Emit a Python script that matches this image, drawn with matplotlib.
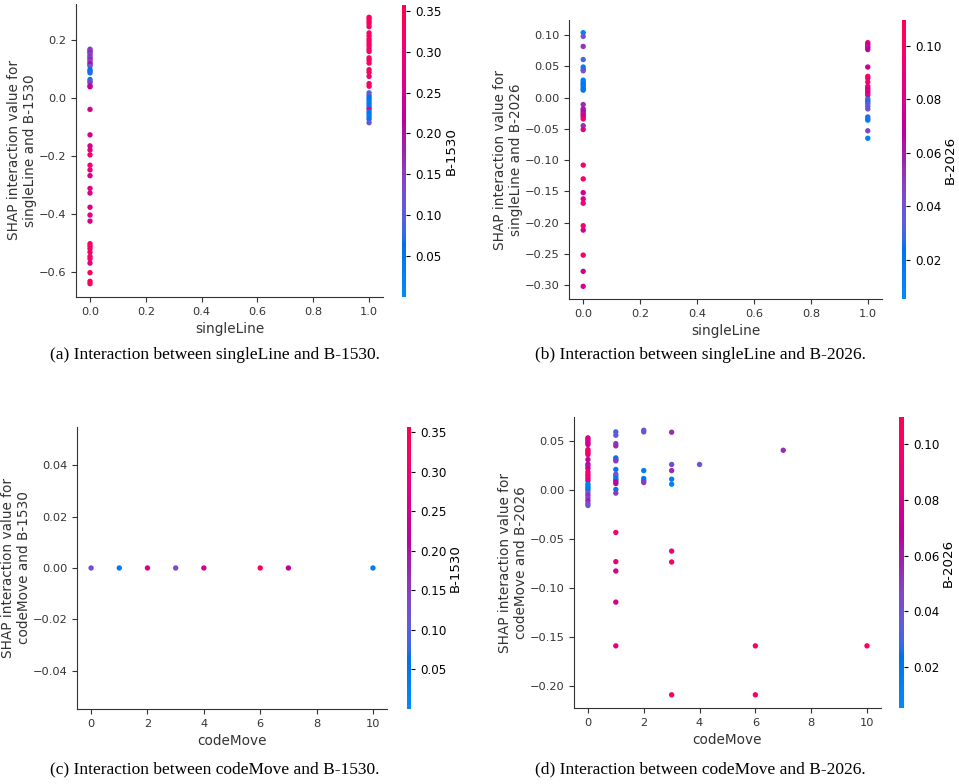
"""SHAP interaction dependence plots for singleLine / codeMove vs B-1530 / B-2026."""

import matplotlib

matplotlib.use("Agg")
import matplotlib.pyplot as plt
import numpy as np
from matplotlib.colors import LinearSegmentedColormap
from matplotlib.ticker import MultipleLocator

# ---- data ----
# (a) singleLine vs B-1530
a_x = [0.0] * 43 + [1.0] * 34
a_y = [
    0.168, 0.164, 0.159, 0.155, 0.149, 0.143, 0.138, 0.132, 0.126, 0.120,
    0.115, 0.109, 0.097, 0.092, 0.086, 0.063, 0.057, 0.052, 0.042, 0.038,
    -0.040, -0.128, -0.166, -0.180, -0.197, -0.233, -0.249, -0.269, -0.313,
    -0.329, -0.378, -0.405, -0.426, -0.504, -0.512, -0.521, -0.533, -0.548,
    -0.556, -0.571, -0.604, -0.634, -0.642,
    0.278, 0.272, 0.264, 0.256, 0.246, 0.224, 0.214, 0.203, 0.195, 0.186,
    0.178, 0.168, 0.160, 0.138, 0.130, 0.120, 0.097, 0.088, 0.074, 0.049,
    0.040, 0.017, 0.008, 0.000, -0.008, -0.017, -0.026, -0.034, -0.040,
    -0.049, -0.057, -0.065, -0.074, -0.086,
]
a_c = [
    0.13, 0.16, 0.13, 0.18, 0.12, 0.17, 0.13, 0.19, 0.12, 0.17,
    0.21, 0.11, 0.06, 0.05, 0.07, 0.06, 0.10, 0.15, 0.18, 0.22,
    0.25, 0.26, 0.25, 0.27, 0.31, 0.30, 0.30, 0.26, 0.27,
    0.27, 0.26, 0.27, 0.26, 0.33, 0.33, 0.34, 0.32, 0.33,
    0.32, 0.27, 0.34, 0.35, 0.34,
    0.34, 0.33, 0.34, 0.33, 0.32, 0.33, 0.32, 0.33, 0.34, 0.32,
    0.33, 0.31, 0.32, 0.33, 0.32, 0.33, 0.32, 0.33, 0.32, 0.31,
    0.33, 0.10, 0.09, 0.06, 0.05, 0.04, 0.05, 0.03, 0.30,
    0.04, 0.05, 0.03, 0.05, 0.11,
]

# (b) singleLine vs B-2026
b_x = [0.0] * 34 + [1.0] * 26
b_y = [
    0.104, 0.098, 0.082, 0.061, 0.049, 0.045, 0.043, 0.028, 0.025, 0.022,
    0.020, 0.017, 0.014, 0.012, -0.011, -0.018, -0.020, -0.023, -0.026,
    -0.028, -0.031, -0.034, -0.045, -0.051, -0.108, -0.130, -0.152, -0.162,
    -0.169, -0.205, -0.212, -0.252, -0.278, -0.302,
    0.088, 0.085, 0.082, 0.080, 0.077, 0.049, 0.034, 0.031, 0.025, 0.018,
    0.015, 0.013, 0.010, 0.007, 0.004, -0.002, -0.004, -0.007, -0.010,
    -0.014, -0.018, -0.031, -0.034, -0.036, -0.053, -0.065,
]
b_c = [
    0.012, 0.040, 0.052, 0.030, 0.015, 0.018, 0.042, 0.015, 0.012, 0.018,
    0.020, 0.014, 0.025, 0.020, 0.055, 0.065, 0.058, 0.070, 0.060,
    0.090, 0.075, 0.095, 0.055, 0.085, 0.100, 0.100, 0.075, 0.080,
    0.095, 0.100, 0.078, 0.100, 0.075, 0.080,
    0.090, 0.075, 0.090, 0.060, 0.070, 0.075, 0.100, 0.095, 0.100, 0.080,
    0.090, 0.075, 0.090, 0.070, 0.090, 0.020, 0.035, 0.025, 0.040,
    0.030, 0.040, 0.025, 0.035, 0.015, 0.045, 0.012,
]

# (c) codeMove vs B-1530
c_x = [0, 1, 2, 3, 4, 6, 7, 10]
c_y = [0.0, 0.0, 0.0, 0.0, 0.0, 0.0, 0.0, 0.0]
c_c = [0.13, 0.04, 0.26, 0.13, 0.25, 0.34, 0.22, 0.03]

# (d) codeMove vs B-2026
d_x = [0] * 28 + [1] * 21 + [2] * 6 + [3] * 8 + [4] + [6] * 2 + [7] + [10]
d_y = [
    0.0534, 0.0517, 0.0500, 0.0483, 0.0466, 0.0415, 0.0398, 0.0381, 0.0364,
    0.0313, 0.0266, 0.0246, 0.0222, 0.0188, 0.0164, 0.0144, 0.0120, 0.0096,
    0.0062, 0.0042, 0.0022, 0.0001, -0.0026, -0.0053, -0.0080, -0.0107,
    -0.0134, -0.0155,
    0.0595, 0.0561, 0.0476, 0.0453, 0.0330, 0.0313, 0.0300, 0.0212, 0.0164,
    0.0144, 0.0120, 0.0103, 0.0086, 0.0069, 0.0008, -0.0029, -0.0430,
    -0.0728, -0.0823, -0.1140, -0.1586,
    0.0612, 0.0595, 0.0201, 0.0120, 0.0096, 0.0079,
    0.0592, 0.0263, 0.0201, 0.0113, 0.0062, -0.0620, -0.0731, -0.2085,
    0.0263,
    -0.1586, -0.2085,
    0.0408,
    -0.1586,
]
d_c = [
    0.080, 0.075, 0.090, 0.080, 0.075, 0.100, 0.095, 0.100, 0.095,
    0.075, 0.070, 0.060, 0.075, 0.100, 0.095, 0.100, 0.095, 0.085,
    0.015, 0.012, 0.018, 0.020, 0.040, 0.055, 0.045, 0.060,
    0.045, 0.040,
    0.030, 0.040, 0.050, 0.055, 0.020, 0.025, 0.050, 0.020, 0.040,
    0.035, 0.025, 0.015, 0.070, 0.065, 0.020, 0.050, 0.095,
    0.090, 0.080, 0.080, 0.090,
    0.035, 0.040, 0.015, 0.015, 0.020, 0.050,
    0.055, 0.045, 0.055, 0.015, 0.012, 0.095, 0.100, 0.100,
    0.040,
    0.100, 0.100,
    0.055,
    0.100,
]

# colour ranges of the two interaction features
range_b1530 = [0.0, 0.357]
range_b2026 = [0.0054, 0.1097]
ticks_b1530 = [0.05, 0.10, 0.15, 0.20, 0.25, 0.30, 0.35]
ticks_b2026 = [0.02, 0.04, 0.06, 0.08, 0.10]

AXIS_COLOR = "#333333"


def lch_to_rgb(l, c, h):
    """Convert one LCh colour to clipped sRGB (D65), like skimage does."""
    a, b = c * np.cos(h), c * np.sin(h)
    fy = (l + 16.0) / 116.0
    fx = a / 500.0 + fy
    fz = max(fy - b / 200.0, 0.0)
    f = np.array([fx, fy, fz])
    xyz = np.where(f > 0.2068966, f**3, (f - 16.0 / 116.0) / 7.787)
    xyz *= np.array([0.95047, 1.0, 1.08883])
    m = np.array([
        [3.24048134, -1.53715152, -0.49853633],
        [-0.96925495, 1.87599, 0.04155593],
        [0.05564664, -0.20404134, 1.05731107],
    ])
    rgb = m @ xyz
    rgb = np.where(rgb > 0.0031308, 1.055 * np.abs(rgb) ** (1 / 2.4) - 0.055, 12.92 * rgb)
    return np.clip(rgb, 0, 1)


def make_red_blue():
    """Rebuild SHAP's perceptual red_blue colour map."""
    blue_lch = [54.0, 70.0, 4.6588]
    red_lch = [54.0, 90.0, 0.35470565 + 2 * np.pi]
    l_mid = 40.0
    nsteps = 100
    l_vals = list(np.linspace(blue_lch[0], l_mid, nsteps // 2)) + list(
        np.linspace(l_mid, red_lch[0], nsteps // 2)
    )
    c_vals = np.linspace(blue_lch[1], red_lch[1], nsteps)
    h_vals = np.linspace(blue_lch[2], red_lch[2], nsteps)
    cols = [lch_to_rgb(l, c, h) for l, c, h in zip(l_vals, c_vals, h_vals)]
    return LinearSegmentedColormap.from_list("red_blue", cols)


red_blue = make_red_blue()


def draw_panel(fig, ax_rect, cb_rect, x, y, c, crange, cticks, xname, cname, ystep=None):
    """Draw one SHAP dependence plot with its thin colour bar."""
    ax = fig.add_axes(ax_rect)
    cax = fig.add_axes(cb_rect)
    sc = ax.scatter(
        x, y, c=c, cmap=red_blue, vmin=crange[0], vmax=crange[1],
        s=15, linewidths=0, alpha=1.0,
    )
    ax.set_xlabel(xname, color=AXIS_COLOR, fontsize=9.8)
    ax.set_ylabel(
        f"SHAP interaction value for\n{xname} and {cname}",
        color=AXIS_COLOR, fontsize=9.8, labelpad=1,
    )
    if ystep:
        ax.yaxis.set_major_locator(MultipleLocator(ystep))
    ax.spines["top"].set_visible(False)
    ax.spines["right"].set_visible(False)
    for side in ("left", "bottom"):
        ax.spines[side].set_color(AXIS_COLOR)
    ax.tick_params(color=AXIS_COLOR, labelcolor=AXIS_COLOR, labelsize=8.2)

    cb = fig.colorbar(sc, cax=cax, ticks=cticks)
    cb.outline.set_visible(False)
    cb.ax.tick_params(labelsize=8.6, length=3)
    cb.set_label(cname, fontsize=9.6, labelpad=2)
    return ax


fig = plt.figure(figsize=(9.59, 7.84), dpi=100)

draw_panel(fig, [0.0793, 0.6212, 0.3201, 0.3737], [0.4192, 0.6212, 0.0045, 0.3724],
           a_x, a_y, a_c, range_b1530, ticks_b1530, "singleLine", "B-1530")
draw_panel(fig, [0.5933, 0.6186, 0.3264, 0.3559], [0.9403, 0.6186, 0.0045, 0.3559],
           b_x, b_y, b_c, range_b2026, ticks_b2026, "singleLine", "B-2026", ystep=0.05)
draw_panel(fig, [0.0803, 0.0957, 0.3233, 0.3597], [0.4241, 0.0957, 0.0045, 0.3597],
           c_x, c_y, c_c, range_b1530, ticks_b1530, "codeMove", "B-1530", ystep=0.02)
draw_panel(fig, [0.5985, 0.0969, 0.3201, 0.3712], [0.9374, 0.0969, 0.0050, 0.3712],
           d_x, d_y, d_c, range_b2026, ticks_b2026, "codeMove", "B-2026", ystep=0.05)

captions = [
    (0.224, 0.547, "(a) Interaction between singleLine and B-1530."),
    (0.730, 0.547, "(b) Interaction between singleLine and B-2026."),
    (0.224, 0.018, "(c) Interaction between codeMove and B-1530."),
    (0.730, 0.018, "(d) Interaction between codeMove and B-2026."),
]
for cx, cy, text in captions:
    fig.text(cx, cy, text, ha="center", va="center", fontsize=12.5,
             family="Liberation Serif", color="black")

fig.savefig("out.png", dpi=100)
